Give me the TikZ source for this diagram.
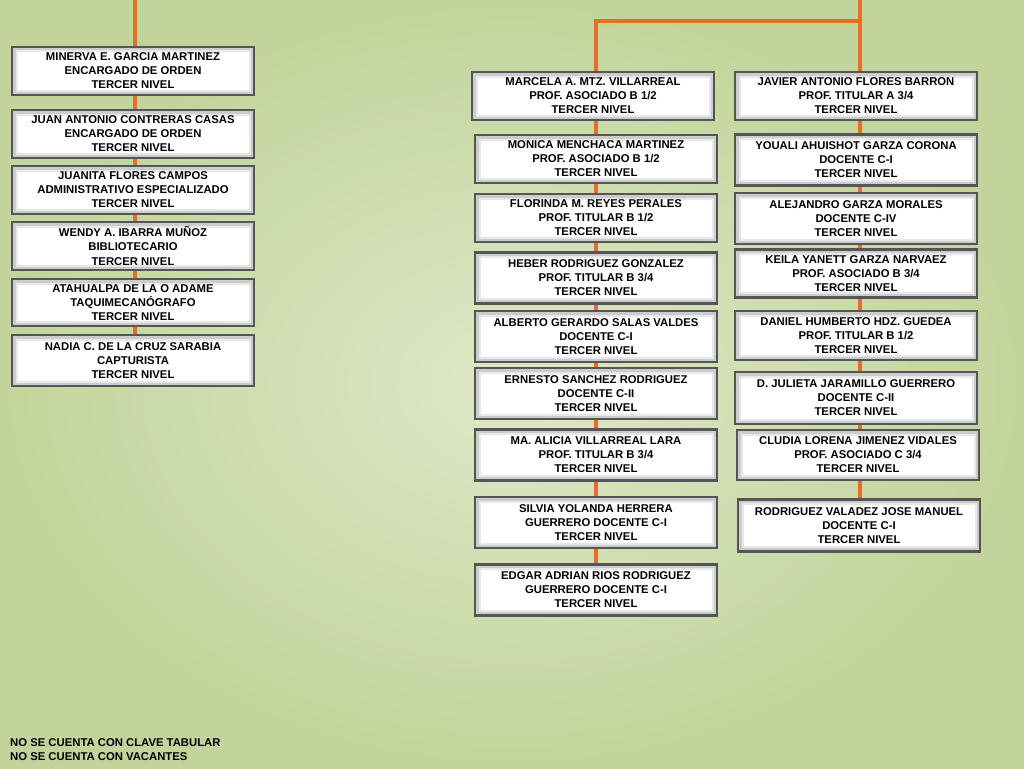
\documentclass[tikz,border=0pt]{standalone}
\usepackage{fontspec}
\setmainfont{Liberation Sans}
\pgfdeclarelayer{bg}
\pgfdeclarelayer{wires}
\pgfsetlayers{bg,wires,main}
\definecolor{bgin}{RGB}{222,232,200}
\definecolor{bgout}{RGB}{194,212,155}
\definecolor{wire}{RGB}{230,110,40}
\definecolor{frame}{RGB}{85,85,85}
\begin{document}
\begin{tikzpicture}[x=1pt,y=-1pt,
  box/.style={draw=frame, line width=2.4pt, fill=white, minimum width=242pt,
    inner sep=0pt, align=center, font=\fontsize{11.3}{14.1}\selectfont\bfseries,
    path picture={
      \draw[black!9,line width=11pt] (path picture bounding box.south west) rectangle (path picture bounding box.north east);
      \draw[black!20,line width=7pt] (path picture bounding box.south west) rectangle (path picture bounding box.north east);}},
  conn/.style={draw=wire, line width=3.2pt, line join=miter},
  note/.style={inner sep=0pt, align=left, font=\fontsize{11.3}{14.1}\selectfont\bfseries}]
\useasboundingbox (0,0) rectangle (1024,768);
\begin{pgfonlayer}{bg}
\shade[inner color=bgin, outer color=bgout] (0,0) rectangle (1024,768);
\end{pgfonlayer}

% left column
\node[box,minimum height=48pt] (l1) at (133,71) {MINERVA E. GARCIA MARTINEZ\\ENCARGADO DE ORDEN\\TERCER NIVEL};
\node[box,minimum height=48pt] (l2) at (133,134) {JUAN ANTONIO CONTRERAS CASAS\\ENCARGADO DE ORDEN\\TERCER NIVEL};
\node[box,minimum height=48pt] (l3) at (133,190) {JUANITA FLORES CAMPOS\\ADMINISTRATIVO ESPECIALIZADO\\TERCER NIVEL};
\node[box,minimum height=48pt] (l4) at (133,246) {WENDY A. IBARRA MUÑOZ\\BIBLIOTECARIO\\TERCER NIVEL};
\node[box,minimum height=47pt] (l5) at (133,302.5) {ATAHUALPA DE LA O ADAME\\TAQUIMECANÓGRAFO\\TERCER NIVEL};
\node[box,minimum height=51pt] (l6) at (133,360.5) {NADIA C. DE LA CRUZ SARABIA\\CAPTURISTA\\TERCER NIVEL};

% middle column
\node[box,minimum height=48pt] (m1) at (593,96) {MARCELA A. MTZ. VILLARREAL\\PROF. ASOCIADO B 1/2\\TERCER NIVEL};
\node[box,minimum height=48pt] (m2) at (596,159) {MONICA MENCHACA MARTINEZ\\PROF. ASOCIADO B 1/2\\TERCER NIVEL};
\node[box,minimum height=48pt] (m3) at (596,218) {FLORINDA M. REYES PERALES\\PROF. TITULAR B 1/2\\TERCER NIVEL};
\node[box,minimum height=51pt] (m4) at (596,278) {HEBER RODRIGUEZ GONZALEZ\\PROF. TITULAR B 3/4\\TERCER NIVEL};
\node[box,minimum height=51pt] (m5) at (596,336.5) {ALBERTO GERARDO SALAS VALDES\\DOCENTE C-I\\TERCER NIVEL};
\node[box,minimum height=51pt] (m6) at (596,393.5) {ERNESTO SANCHEZ RODRIGUEZ\\DOCENTE C-II\\TERCER NIVEL};
\node[box,minimum height=51pt] (m7) at (596,455) {MA. ALICIA VILLARREAL LARA\\PROF. TITULAR B 3/4\\TERCER NIVEL};
\node[box,minimum height=51pt] (m8) at (596,522.5) {SILVIA YOLANDA HERRERA\\GUERRERO DOCENTE C-I\\TERCER NIVEL};
\node[box,minimum height=51pt] (m9) at (596,590) {EDGAR ADRIAN RIOS RODRIGUEZ\\GUERRERO DOCENTE C-I\\TERCER NIVEL};

% right column
\node[box,minimum height=48pt] (r1) at (856,96) {JAVIER ANTONIO FLORES BARRON\\PROF. TITULAR A 3/4\\TERCER NIVEL};
\node[box,minimum height=51pt] (r2) at (856,160) {YOUALI AHUISHOT GARZA CORONA\\DOCENTE C-I\\TERCER NIVEL};
\node[box,minimum height=51pt] (r3) at (856,218.5) {ALEJANDRO GARZA MORALES\\DOCENTE C-IV\\TERCER NIVEL};
\node[box,minimum height=48pt] (r4) at (856,273.5) {KEILA YANETT GARZA NARVAEZ\\PROF. ASOCIADO B 3/4\\TERCER NIVEL};
\node[box,minimum height=49pt] (r5) at (856,335.5) {DANIEL HUMBERTO HDZ. GUEDEA\\PROF. TITULAR B 1/2\\TERCER NIVEL};
\node[box,minimum height=52pt] (r6) at (856,398) {D. JULIETA JARAMILLO GUERRERO\\DOCENTE C-II\\TERCER NIVEL};
\node[box,minimum height=50pt] (r7) at (858,455) {CLUDIA LORENA JIMENEZ VIDALES\\PROF. ASOCIADO C 3/4\\TERCER NIVEL};
\node[box,minimum height=52pt] (r8) at (859,525.5) {RODRIGUEZ VALADEZ JOSE MANUEL\\DOCENTE C-I\\TERCER NIVEL};

% note
\node[note,anchor=west] (nota) at (10,750) {NO SE CUENTA CON CLAVE TABULAR\\NO SE CUENTA CON VACANTES};

% connectors
\begin{pgfonlayer}{wires}
\coordinate (ltop) at (135,0);
\coordinate (rtop) at (860,0);
\coordinate (mjoin) at (596,21);
\draw[conn] (ltop) -- (ltop |- l6.north);
\draw[conn] (rtop) -- (rtop |- r8.north);
\draw[conn] (mjoin -| rtop) -- (mjoin) -- (mjoin |- m9.north);
\end{pgfonlayer}
\end{tikzpicture}
\end{document}
